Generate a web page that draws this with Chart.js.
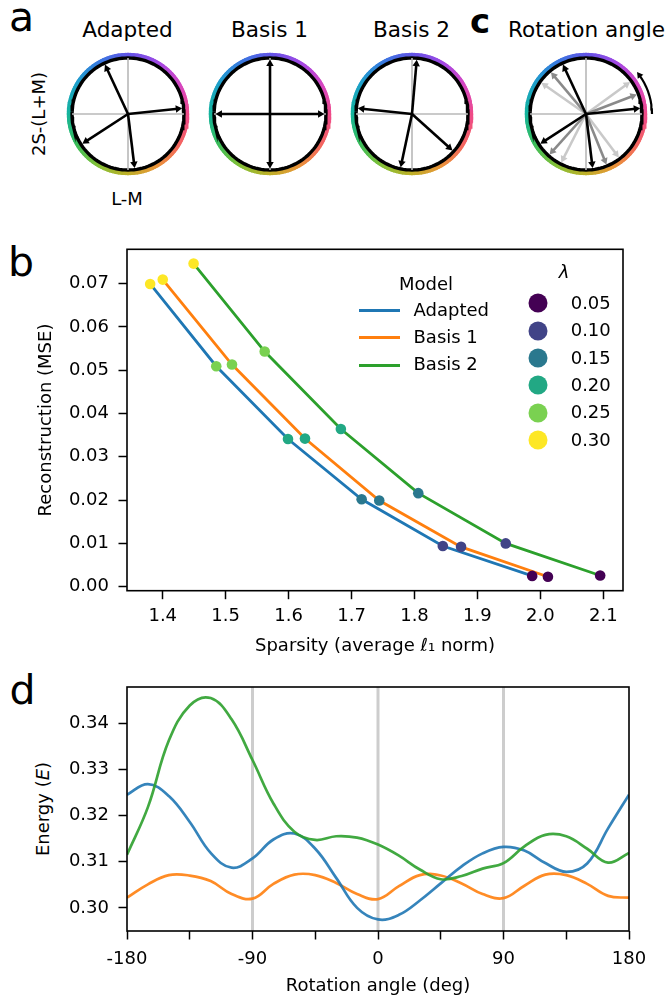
<!DOCTYPE html>
<html>
<head>
<meta charset="utf-8">
<script src="https://cdn.jsdelivr.net/npm/chart.js@4.4.1/dist/chart.umd.min.js"></script>
<style>
  body { margin: 0; background: #fff; width: 670px; height: 1001px; position: relative; overflow: hidden; font-family: 'DejaVu Sans', sans-serif; }
  canvas { position: absolute; }
  .t { position: absolute; white-space: nowrap; line-height: 1; color: #000; }
  .c { transform: translateX(-50%); }
  .r { transform: translate(-50%, -50%) rotate(-90deg); }
  .sw { position: absolute; width: 41px; height: 3px; }
  .dot { position: absolute; width: 19px; height: 19px; border-radius: 50%; transform: translate(-50%, -50%); }
</style>
</head>
<body>

<!-- panel letters and titles -->
<div class="t" style="left:9px;top:-3px;font-size:41px">a</div>
<div class="t" style="left:8px;top:242px;font-size:41px">b</div>
<div class="t" style="left:470px;top:4px;font-size:34px;font-weight:bold">c</div>
<div class="t" style="left:9.5px;top:670px;font-size:41px">d</div>

<div class="t c" style="left:127.5px;top:18.7px;font-size:21.6px">Adapted</div>
<div class="t c" style="left:269.5px;top:18.7px;font-size:21.6px">Basis 1</div>
<div class="t c" style="left:411.5px;top:18.7px;font-size:21.6px">Basis 2</div>
<div class="t c" style="left:586.5px;top:18.7px;font-size:21.6px">Rotation angle</div>

<div class="t r" style="left:39px;top:113.7px;font-size:18px">2S-(L+M)</div>
<div class="t c" style="left:127px;top:189.8px;font-size:18px">L-M</div>
<div class="t r" style="left:42.5px;top:809px;font-size:18px">Energy (<i>E</i>)</div>

<canvas id="wheelAdapted" width="150" height="150" style="left:53px;top:39px"></canvas>
<canvas id="wheelBasis1" width="150" height="150" style="left:195px;top:39px"></canvas>
<canvas id="wheelBasis2" width="150" height="150" style="left:337px;top:39px"></canvas>
<canvas id="wheelRotation" width="150" height="150" style="left:511px;top:39px"></canvas>

<canvas id="chartB" width="670" height="425" style="left:0;top:236px"></canvas>
<canvas id="chartD" width="670" height="340" style="left:0;top:661px"></canvas>

<!-- legends of panel b -->
<div id="legendB"></div>

<script>
// ---- panel a / c : arrow directions, degrees counter-clockwise from the L-M axis
const adaptedAngles = [6, 115, 213, 277];
const basis1Angles = [0, 90, 180, 270];
const basis2Angles = [85, 174, 258, 318];
const rotationSteps = [30, 15, 0];
const rotationColors = ['#c9c9c9', '#8a8a8a', '#000000'];
const ringAngles = [0, 30, 60, 90, 120, 150, 180, 210, 240, 270, 300, 330, 360];
const ringColors = ['#ef4a88', '#d847c0', '#a548e4', '#6452e6', '#3a78e0', '#1f9fcc', '#14b3a0',
                    '#36bd5e', '#80c038', '#bcb128', '#e99538', '#f4675e', '#ef4a88'];
const arcFrom = 0;
const arcTo = 36;

// ---- panel b
const modelNames = ['Adapted', 'Basis 1', 'Basis 2'];
const modelColors = ['#1f77b4', '#ff7f0e', '#2ca02c'];
const lambdas = [0.05, 0.10, 0.15, 0.20, 0.25, 0.30];
const lambdaColors = ['#440154', '#414487', '#2a788e', '#22a884', '#7ad151', '#fde725'];
const sparsityAdapted = [1.987, 1.845, 1.716, 1.599, 1.485, 1.380];
const mseAdapted = [0.0025, 0.0094, 0.0202, 0.0341, 0.0509, 0.0699];
const sparsityBasis1 = [2.012, 1.874, 1.744, 1.626, 1.510, 1.400];
const mseBasis1 = [0.0023, 0.0092, 0.0199, 0.0342, 0.0513, 0.0709];
const sparsityBasis2 = [2.095, 1.945, 1.806, 1.683, 1.562, 1.449];
const mseBasis2 = [0.0026, 0.0100, 0.0216, 0.0364, 0.0543, 0.0746];
const xTicksB = [1.4, 1.5, 1.6, 1.7, 1.8, 1.9, 2.0, 2.1];
const yTicksB = [0, 0.01, 0.02, 0.03, 0.04, 0.05, 0.06, 0.07];

// ---- panel d
const rotAngles = [-180, -165, -150, -135, -120, -105, -90, -75, -60, -45, -30, -15, 0,
                   15, 30, 45, 60, 75, 90, 105, 120, 135, 150, 165, 180];
const energyAdapted = [0.3245, 0.3268, 0.3242, 0.3186, 0.3119, 0.3087, 0.3107, 0.3148, 0.3161, 0.3128, 0.3065, 0.3000, 0.2975,
                       0.2985, 0.3016, 0.3053, 0.3090, 0.3118, 0.3132, 0.3124, 0.3097, 0.3078, 0.3096, 0.3172, 0.3245];
const energyBasis1 = [0.3022, 0.3051, 0.3071, 0.3070, 0.3058, 0.3030, 0.3020, 0.3052, 0.3072, 0.3071, 0.3054, 0.3030, 0.3019,
                      0.3047, 0.3071, 0.3070, 0.3053, 0.3030, 0.3021, 0.3048, 0.3072, 0.3071, 0.3052, 0.3026, 0.3022];
const energyBasis2 = [0.3115, 0.3218, 0.3362, 0.3438, 0.3454, 0.3408, 0.3320, 0.3226, 0.3165, 0.3147, 0.3155, 0.3152, 0.3137,
                      0.3113, 0.3083, 0.3062, 0.3069, 0.3085, 0.3097, 0.3133, 0.3158, 0.3155, 0.3128, 0.3098, 0.3119];
const xTicksD = [-180, -135, -90, -45, 0, 45, 90, 135, 180];
const xLabelsD = ['-180', '', '-90', '', '0', '', '90', '', '180'];
const yTicksD = [0.30, 0.31, 0.32, 0.33, 0.34];
const refAngles = [-90, 0, 90];

Chart.defaults.font.family = "'DejaVu Sans', sans-serif";
Chart.defaults.font.size = 18;
Chart.defaults.color = '#000';
Chart.defaults.animation = false;

// frame around the plot area (matplotlib spines)
const boxPlugin = {
    id: 'box',
    afterDatasetsDraw(chart) {
        const a = chart.chartArea;
        const ctx = chart.ctx;
        ctx.save();
        ctx.strokeStyle = '#000';
        ctx.lineWidth = 1.6;
        ctx.strokeRect(a.left, a.top, a.right - a.left, a.bottom - a.top);
        ctx.restore();
    }
};

// ---------- wheels (panels a and c)
const UNIT = 56;                 // px for radius 1
const HALF = 75 / UNIT;          // canvas is 150 px
const RING_R = 58.6 / UNIT;
const TIP_R = 54.5 / UNIT;
const HEAD = 4.3;                // triangle radius in px
const ARC_R = 66 / UNIT;

function hexToRgb(h) {
    return [parseInt(h.slice(1, 3), 16), parseInt(h.slice(3, 5), 16), parseInt(h.slice(5, 7), 16)];
}

function ringColor(a) {
    a = ((a % 360) + 360) % 360;
    for (let i = 0; i < ringAngles.length - 1; i++) {
        if (a <= ringAngles[i + 1]) {
            const t = (a - ringAngles[i]) / (ringAngles[i + 1] - ringAngles[i]);
            const c1 = hexToRgb(ringColors[i]), c2 = hexToRgb(ringColors[i + 1]);
            const c = c1.map((v, k) => Math.round(v + (c2[k] - v) * t));
            return `rgb(${c[0]},${c[1]},${c[2]})`;
        }
    }
    return ringColors[0];
}

function circlePoints(r, from, to, step) {
    const pts = [];
    for (let a = from; a <= to + 1e-9; a += step) {
        pts.push({ x: r * Math.cos(a * Math.PI / 180), y: r * Math.sin(a * Math.PI / 180) });
    }
    return pts;
}

function arrowDataset(theta, color, order) {
    const rad = theta * Math.PI / 180;
    const r = TIP_R - HEAD / UNIT;
    return {
        data: [{ x: 0, y: 0 }, { x: r * Math.cos(rad), y: r * Math.sin(rad) }],
        showLine: true,
        borderColor: color,
        borderWidth: 2.6,
        pointRadius: [0, HEAD],
        pointStyle: 'triangle',
        pointRotation: [0, 90 - theta],
        pointBackgroundColor: color,
        pointBorderWidth: 0,
        order: order
    };
}

function drawWheel(canvasId, groups, withArc) {
    const datasets = [
        {
            data: circlePoints(RING_R, 0, 360, 3), showLine: true, pointRadius: 0,
            borderWidth: 5.2, borderCapStyle: 'round',
            segment: { borderColor: c => ringColor((c.p0DataIndex + 0.5) * 3) },
            order: 40
        },
        { data: circlePoints(1, 0, 360, 3), showLine: true, pointRadius: 0, borderColor: '#000', borderWidth: 3.4, order: 30 },
        { data: [{ x: -1, y: 0 }, { x: 1, y: 0 }], showLine: true, pointRadius: 0, borderColor: '#b8b8b8', borderWidth: 1.6, order: 20 },
        { data: [{ x: 0, y: -1 }, { x: 0, y: 1 }], showLine: true, pointRadius: 0, borderColor: '#b8b8b8', borderWidth: 1.6, order: 20 }
    ];
    groups.forEach((g, gi) => {
        g.angles.forEach(a => datasets.push(arrowDataset(a, g.color, 10 - gi)));
    });
    if (withArc) {
        const arc = circlePoints(ARC_R, arcFrom, arcTo, 4);
        datasets.push({
            data: arc, showLine: true, borderColor: '#000', borderWidth: 2.2,
            pointRadius: arc.map((p, i) => (i === arc.length - 1 ? 4 : 0)),
            pointStyle: 'triangle',
            pointRotation: arc.map(() => -arcTo),
            pointBackgroundColor: '#000', pointBorderWidth: 0, order: 1
        });
    }
    new Chart(document.getElementById(canvasId), {
        type: 'scatter',
        data: { datasets },
        options: {
            responsive: false,
            events: [],
            layout: { padding: 0, autoPadding: false },
            plugins: { legend: { display: false }, tooltip: { enabled: false } },
            scales: {
                x: { type: 'linear', min: -HALF, max: HALF, display: false },
                y: { type: 'linear', min: -HALF, max: HALF, display: false }
            }
        }
    });
}

drawWheel('wheelAdapted', [{ angles: adaptedAngles, color: '#000' }], false);
drawWheel('wheelBasis1', [{ angles: basis1Angles, color: '#000' }], false);
drawWheel('wheelBasis2', [{ angles: basis2Angles, color: '#000' }], false);
drawWheel('wheelRotation', rotationSteps.map((s, i) => ({
    angles: adaptedAngles.map(a => a + s), color: rotationColors[i]
})), true);

// ---------- common axis styling
function axisStyle(extra) {
    return Object.assign({
        type: 'linear',
        border: { display: false },
        grid: { drawOnChartArea: false, drawTicks: true, tickLength: 8.5, tickWidth: 1.5, tickColor: '#000' }
    }, extra);
}

// fixed axis box sizes, no extra padding from the edge labels
function fixHeight(h) {
    return s => { s.height = h; s.paddingLeft = 0; s.paddingRight = 0; };
}
function fixWidth(w) {
    return s => { s.width = w; s.paddingTop = 0; s.paddingBottom = 0; };
}

// ---------- panel b
const seriesB = [
    [sparsityAdapted, mseAdapted],
    [sparsityBasis1, mseBasis1],
    [sparsityBasis2, mseBasis2]
];
const datasetsB = [];
seriesB.forEach(([xs, ys], m) => {
    const pts = xs.map((x, i) => ({ x: x, y: ys[i] }));
    datasetsB.push({ label: modelNames[m], data: pts, showLine: true, pointRadius: 0,
                     borderColor: modelColors[m], borderWidth: 2.8, order: 5 });
    datasetsB.push({ data: pts, showLine: false, pointRadius: 5.3, pointBorderWidth: 0,
                     pointBackgroundColor: lambdaColors, order: 1 });
});

new Chart(document.getElementById('chartB'), {
    type: 'scatter',
    data: { datasets: datasetsB },
    plugins: [boxPlugin],
    options: {
        responsive: false,
        events: [],
        layout: { padding: { left: 31.5, top: 13.3, right: 47, bottom: 0 }, autoPadding: false },
        plugins: { legend: { display: false }, tooltip: { enabled: false } },
        scales: {
            x: axisStyle({
                min: 1.3432, max: 2.1313,
                afterBuildTicks: s => { s.ticks = xTicksB.map(v => ({ value: v })); },
                afterFit: fixHeight(70.3),
                ticks: { padding: 6.5, autoSkip: false, maxRotation: 0, callback: v => v.toFixed(1) },
                title: { display: true, text: 'Sparsity (average ℓ₁ norm)', padding: { top: 4, bottom: 4 } }
            }),
            y: axisStyle({
                min: -0.00092, max: 0.0779,
                afterBuildTicks: s => { s.ticks = yTicksB.map(v => ({ value: v })); },
                afterFit: fixWidth(95.5),
                ticks: { padding: 9.5, autoSkip: false, callback: v => v.toFixed(2) },
                title: { display: true, text: 'Reconstruction (MSE)', padding: { top: 4, bottom: 4 } }
            })
        }
    }
});

// legends of panel b (model lines and lambda colours)
const legend = document.getElementById('legendB');
let html = '<div class="t c" style="left:426px;top:274.8px;font-size:18px">Model</div>';
modelNames.forEach((name, i) => {
    const y = 310.7 + i * 27.2;
    html += `<div class="sw" style="left:359.3px;top:${y - 1.5}px;background:${modelColors[i]}"></div>`;
    html += `<div class="t" style="left:413.5px;top:${y + 5.3 - 15.2}px;font-size:18px">${name}</div>`;
});
html += '<div class="t c" style="left:564px;top:262.8px;font-size:18px;font-style:italic">λ</div>';
lambdas.forEach((l, i) => {
    const y = 303.3 + i * 27.33;
    html += `<div class="dot" style="left:537.7px;top:${y}px;background:${lambdaColors[i]}"></div>`;
    html += `<div class="t" style="left:570.7px;top:${y + 6 - 15.2}px;font-size:18px">${l.toFixed(2)}</div>`;
});
legend.innerHTML = html;

// ---------- panel d
const yMinD = 0.2950;
const yMaxD = 0.3478;
const datasetsD = refAngles.map(a => ({
    data: [{ x: a, y: yMinD }, { x: a, y: yMaxD }], showLine: true, pointRadius: 0,
    borderColor: '#cdcdcd', borderWidth: 3, order: 20
}));
[[energyAdapted, 2], [energyBasis1, 3], [energyBasis2, 1]].forEach(([ys, ord], m) => {
    datasetsD.push({
        data: rotAngles.map((a, i) => ({ x: a, y: ys[i] })),
        showLine: true, pointRadius: 0, tension: 0.4,
        borderColor: modelColors[m] + 'e6', borderWidth: 2.7, order: ord
    });
});

new Chart(document.getElementById('chartD'), {
    type: 'scatter',
    data: { datasets: datasetsD },
    plugins: [boxPlugin],
    options: {
        responsive: false,
        events: [],
        layout: { padding: { left: 0, top: 26, right: 41, bottom: 0 }, autoPadding: false },
        plugins: { legend: { display: false }, tooltip: { enabled: false } },
        scales: {
            x: axisStyle({
                min: -180, max: 180,
                afterBuildTicks: s => { s.ticks = xTicksD.map(v => ({ value: v })); },
                afterFit: fixHeight(70),
                ticks: { padding: 9, autoSkip: false, maxRotation: 0, callback: (v, i) => xLabelsD[i] },
                title: { display: true, text: 'Rotation angle (deg)', padding: { top: 4, bottom: 4 } }
            }),
            y: axisStyle({
                min: yMinD, max: yMaxD,
                afterBuildTicks: s => { s.ticks = yTicksD.map(v => ({ value: v })); },
                afterFit: fixWidth(127),
                ticks: { padding: 9.5, autoSkip: false, callback: v => v.toFixed(2) }
            })
        }
    }
});
</script>
</body>
</html>
